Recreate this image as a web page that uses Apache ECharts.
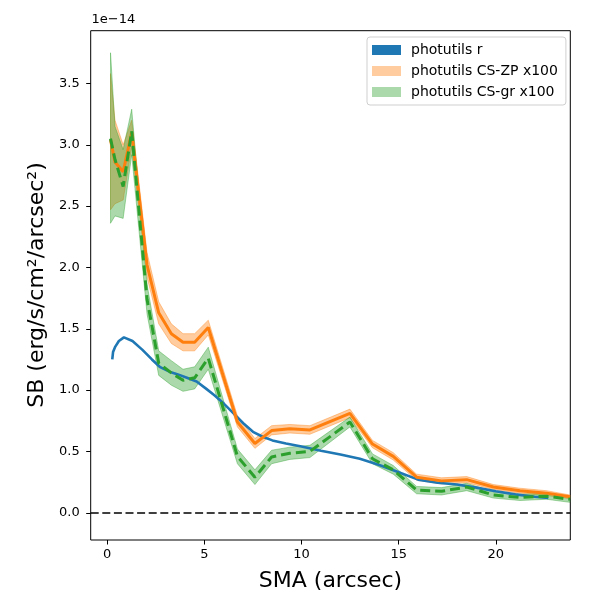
<!DOCTYPE html>
<html><head><meta charset="utf-8">
<script src="https://cdn.jsdelivr.net/npm/echarts@6/dist/echarts.min.js"></script>
<style>html,body{margin:0;padding:0;background:#fff}#c{width:600px;height:600px}</style>
</head><body><div id="c"></div>
<script>
// tick labels
const xTicks = [0, 5, 10, 15, 20];
const yTicks = [0, 0.5, 1.0, 1.5, 2.0, 2.5, 3.0, 3.5];

// photutils r (units of 1e-14)
const smaR = [0.26, 0.3, 0.4, 0.6, 0.86, 1.3, 1.8, 2.3, 2.7, 3.2, 3.6, 4.1, 4.6, 5.1, 5.5, 6.0, 6.5, 7.0, 7.5, 8.0, 8.5, 9.2, 10.0, 11.0, 12.0, 13.0, 14.0, 15.0, 16.0, 17.0, 18.0, 19.0, 20.0, 21.0, 22.0, 22.7];
const sbR  = [1.25, 1.31, 1.35, 1.40, 1.43, 1.40, 1.33, 1.25, 1.19, 1.15, 1.13, 1.10, 1.07, 1.01, 0.96, 0.89, 0.81, 0.73, 0.66, 0.62, 0.59, 0.565, 0.54, 0.505, 0.475, 0.44, 0.39, 0.33, 0.27, 0.245, 0.23, 0.205, 0.175, 0.15, 0.13, 0.12];

// shared SMA grid for the CS series
const sma = [0.17, 0.40, 0.82, 1.26, 2.05, 2.65, 3.3, 3.9, 4.5, 5.2, 6.7, 7.6, 8.46, 9.4, 10.43, 12.49, 13.65, 14.72, 15.92, 17.2, 18.5, 19.87, 21.24, 22.61, 23.81];

// photutils CS-ZP x100
const zpMid = [3.04, 2.86, 2.78, 3.10, 2.02, 1.63, 1.46, 1.39, 1.39, 1.51, 0.74, 0.565, 0.67, 0.685, 0.675, 0.81, 0.56, 0.46, 0.29, 0.26, 0.27, 0.21, 0.18, 0.16, 0.13];
const zpLo  = [2.47, 2.52, 2.55, 2.98, 1.92, 1.54, 1.38, 1.32, 1.32, 1.45, 0.70, 0.525, 0.635, 0.65, 0.64, 0.775, 0.53, 0.43, 0.265, 0.235, 0.245, 0.19, 0.16, 0.14, 0.115];
const zpHi  = [3.58, 3.20, 3.00, 3.20, 2.12, 1.72, 1.54, 1.46, 1.46, 1.57, 0.79, 0.605, 0.71, 0.72, 0.71, 0.845, 0.59, 0.49, 0.315, 0.285, 0.295, 0.23, 0.20, 0.18, 0.145];

// photutils CS-gr x100
const grMid = [3.05, 2.88, 2.66, 3.11, 1.74, 1.22, 1.14, 1.08, 1.10, 1.26, 0.46, 0.29, 0.455, 0.485, 0.50, 0.74, 0.44, 0.35, 0.185, 0.175, 0.21, 0.145, 0.125, 0.135, 0.11];
const grLo  = [2.36, 2.42, 2.40, 2.92, 1.62, 1.12, 1.04, 0.99, 1.01, 1.17, 0.40, 0.23, 0.40, 0.435, 0.45, 0.70, 0.40, 0.315, 0.155, 0.145, 0.18, 0.12, 0.10, 0.11, 0.085];
const grHi  = [3.75, 3.15, 2.96, 3.29, 1.86, 1.32, 1.24, 1.17, 1.19, 1.35, 0.52, 0.35, 0.51, 0.535, 0.55, 0.78, 0.48, 0.385, 0.215, 0.205, 0.24, 0.17, 0.15, 0.16, 0.135];

const BLUE = '#1f77b4', ORANGE = '#ff7f0e', GREEN = '#2ca02c';
const FONT = 'DejaVu Sans';

const pair = (xs, ys) => xs.map((x, i) => [x, ys[i]]);
const triple = (xs, lo, hi) => xs.map((x, i) => [x, lo[i], hi[i]]);

function band(name, lo, hi, rgb) {
  return {
    name: name, type: 'custom', silent: true, clip: true,
    encode: { x: 0, y: [1, 2] },
    data: triple(sma, lo, hi),
    renderItem: function (params, api) {
      if (params.dataIndex !== 0) return null;
      const pts = [];
      for (let i = 0; i < sma.length; i++) pts.push(api.coord([sma[i], hi[i]]));
      for (let i = sma.length - 1; i >= 0; i--) pts.push(api.coord([sma[i], lo[i]]));
      return {
        type: 'polygon',
        shape: { points: pts },
        style: { fill: 'rgba(' + rgb + ',0.4)', stroke: 'rgba(' + rgb + ',0.4)', lineWidth: 1 }
      };
    },
    itemStyle: { color: 'rgba(' + rgb + ',0.4)' }
  };
}

const chart = echarts.init(document.getElementById('c'), null, { renderer: 'canvas' });
chart.setOption({
  animation: false,
  backgroundColor: '#fff',
  textStyle: { fontFamily: FONT },
  grid: { left: 90.7, right: 29.7, top: 30.7, bottom: 60, show: true, borderColor: '#000', borderWidth: 1, backgroundColor: 'transparent' },
  xAxis: {
    type: 'value', min: -0.85, max: 23.83,
    axisLine: { show: false, onZero: false }, splitLine: { show: false },
    axisTick: { show: true, inside: false, length: 4.5, lineStyle: { color: '#000', width: 1 }, customValues: xTicks },
    axisLabel: { color: '#000', fontSize: 13, fontFamily: FONT, margin: 8, customValues: xTicks, formatter: v => String(v) }
  },
  yAxis: {
    type: 'value', min: -0.222, max: 3.93,
    axisLine: { show: false, onZero: false }, splitLine: { show: false },
    axisTick: { show: true, inside: false, length: 4.5, lineStyle: { color: '#000', width: 1 }, customValues: yTicks },
    axisLabel: { color: '#000', fontSize: 13, fontFamily: FONT, margin: 11, customValues: yTicks, formatter: v => v.toFixed(1) }
  },
  legend: {
    orient: 'vertical', left: 367, top: 37, itemWidth: 29, itemHeight: 10, itemGap: 7,
    padding: [6, 8, 6, 5], borderColor: '#cfcfcf', borderWidth: 1, borderRadius: 3,
    backgroundColor: 'rgba(255,255,255,0.8)',
    textStyle: { fontSize: 14, fontFamily: FONT, color: '#000', lineHeight: 14, padding: [0, 0, 0, 5] },
    data: [
      { name: 'photutils r', icon: 'rect', itemStyle: { color: BLUE, opacity: 1 } },
      { name: 'photutils CS-ZP x100', icon: 'rect', itemStyle: { color: 'rgba(255,127,14,0.4)' } },
      { name: 'photutils CS-gr x100', icon: 'rect', itemStyle: { color: 'rgba(44,160,44,0.4)' } }
    ]
  },
  series: [
    { name: 'photutils r', type: 'line', data: pair(smaR, sbR), symbol: 'none', smooth: false,
      lineStyle: { color: BLUE, width: 2.6 }, itemStyle: { color: BLUE },
      markLine: { silent: true, symbol: 'none', label: { show: false },
        lineStyle: { color: '#000', width: 1.5, type: [8, 3.6] }, data: [{ yAxis: 0 }] } },
    band('photutils CS-ZP x100', zpLo, zpHi, '255,127,14'),
    { name: 'zp_line', type: 'line', data: pair(sma, zpMid), symbol: 'none',
      lineStyle: { color: ORANGE, width: 3 } },
    band('photutils CS-gr x100', grLo, grHi, '44,160,44'),
    { name: 'gr_line', type: 'line', data: pair(sma, grMid), symbol: 'none',
      lineStyle: { color: GREEN, width: 3, type: [10, 5] } }
  ],
  graphic: [
    { type: 'text', x: 91.5, y: 20, style: { text: '1e\u221214', font: '13px "DejaVu Sans"', fill: '#000', verticalAlign: 'middle', align: 'left' } },
    { type: 'text', x: 330.5, y: 581, style: { text: 'SMA (arcsec)', font: '22px "DejaVu Sans"', fill: '#000', verticalAlign: 'middle', align: 'center' } },
    { type: 'text', x: 37, y: 285, rotation: Math.PI / 2, style: { text: 'SB (erg/s/cm\u00b2/arcsec\u00b2)', font: '22px "DejaVu Sans"', fill: '#000', verticalAlign: 'middle', align: 'center' } }
  ]
});
</script>
</body></html>
